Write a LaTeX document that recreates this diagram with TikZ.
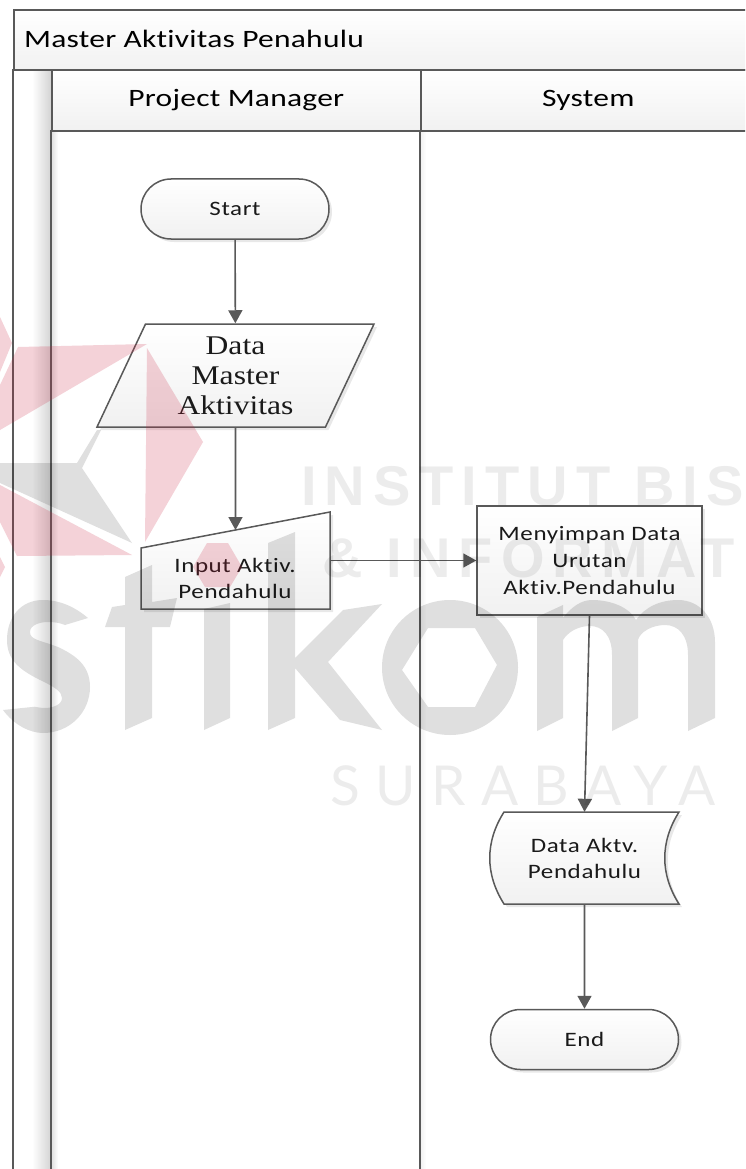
\documentclass[tikz,border=0pt]{standalone}
\usepackage{fontspec}
\setmainfont{Carlito}
\newfontfamily\labelfont[FakeStretch=1.22,LetterSpace=3,Ligatures=NoCommon]{Carlito}
\newfontfamily\headfont[FakeStretch=1.26,LetterSpace=1,Ligatures=NoCommon]{Carlito}
\newfontfamily\dataserif[FakeStretch=1.17]{Liberation Serif}
\newfontfamily\markbold[LetterSpace=14.6]{Liberation Sans Bold}
\newfontfamily\marklight[LetterSpace=28]{Lato}
\usetikzlibrary{arrows.meta,calc,shapes.geometric,shapes.misc,shadows}
\definecolor{edge}{HTML}{595959}
\definecolor{fillend}{HTML}{F1F1F1}
\definecolor{ink}{HTML}{1A1A1A}
\definecolor{stikomrose}{HTML}{C81E3C}
\tikzset{
    softshadow/.style={drop shadow={shadow xshift=3pt, shadow yshift=-3pt,
                       fill=black, opacity=0.09}},
    body/.style={draw=edge, line width=1.5pt, top color=white,
                 bottom color=fillend, softshadow},
    caption/.style={font=\labelfont\fontsize{20.5}{26}\selectfont, text=ink,
                    align=center, inner sep=0pt},
    terminal/.style={body, rounded rectangle, caption, minimum width=188pt,
                     minimum height=60pt},
    process/.style={body, rectangle, caption, minimum width=225pt,
                    minimum height=109pt,
                    font=\labelfont\fontsize{20.5}{27}\selectfont},
    dataio/.style={body, trapezium, trapezium left angle=58.1,
                   trapezium right angle=121.9, trapezium stretches body,
                   minimum width=277pt, minimum height=103pt, inner sep=0pt,
                   align=center, text=ink,
                   font=\dataserif\fontsize{27}{30}\selectfont},
    freetext/.style={caption, minimum width=#1},
    flow/.style={-{Triangle[length=13pt,width=14pt]}, draw=edge,
                 line width=1.6pt},
    band/.style={draw=edge, line width=1.6pt, anchor=north west, top color=white,
                 bottom color=fillend, inner sep=0pt},
    laneline/.style={draw=edge, line width=1.8pt},
    stikomred/.style={fill=stikomrose, fill opacity=0.2, draw=none},
    stikomgrey/.style={fill=black, fill opacity=0.125, draw=none, even odd rule},
    faintword/.style={anchor=base west, inner sep=0pt, text=black, text opacity=0.075},
}

\begin{document}
\begin{tikzpicture}[x=1pt,y=-1pt]

    \useasboundingbox (0,0) rectangle (745,1169);
    \clip (0,0) rectangle (745,1169);
    \fill[white] (0,0) rectangle (745,1169);

    \shade[left color=white, right color=black!17] (32,69) rectangle (51,1175);
    \shade[left color=black!13, right color=white] (51,130) rectangle (58,1175);
    \shade[left color=black!6, right color=white] (420,130) rectangle (426,1175);

    \node[band, minimum width=740pt, minimum height=60pt] (titleband) at (13,9) {};
    \node[anchor=west, inner sep=0pt, text=black,
          font=\headfont\fontsize{25}{30}\selectfont] (title) at (24,39) {Master Aktivitas Penahulu};
    \node[band, minimum width=369pt, minimum height=61pt,
          font=\headfont\fontsize{25}{30}\selectfont, text=black] (managerhead) at (51,69) {Project Manager};
    \node[band, minimum width=335pt, minimum height=61pt,
          font=\headfont\fontsize{25}{30}\selectfont, text=black] (systemhead) at (420,69) {System};
    \coordinate (outertop) at (13,69);
    \coordinate (outerbottom) at (13,1175);
    \coordinate (lanetop) at (51,130);
    \coordinate (lanebottom) at (51,1175);
    \coordinate (dividertop) at (420,130);
    \coordinate (dividerbottom) at (420,1175);
    \draw[laneline] (outertop) -- (outerbottom);
    \draw[laneline] (lanetop) -- (lanebottom);
    \draw[laneline] (dividertop) -- (dividerbottom);

    \node[terminal] (start) at (235,209) {Start};
    \node[dataio] (masterdata) at (235.5,375.5) {Data\\Master\\Aktivitas};

    \path[body] (141,548) -- (330,512) -- (330,609) -- (141,609) -- cycle;
    \node[freetext=189pt, minimum height=97pt] (manualinput) at (235.5,560.5) {};
    \node[caption] (manualtext) at (235,578) {Input Aktiv.\\Pendahulu};
    \coordinate (inputtop) at (235.5,530);

    \node[process] (savedata) at (589.5,560.5) {Menyimpan Data\\Urutan\\Aktiv.Pendahulu};

    \path[body] (504,812) -- (679,812) .. controls (660,842) and (660,874) .. (679,904)
        -- (504,904) .. controls (485,874) and (485,842) .. (504,812) -- cycle;
    \node[caption, minimum width=189pt, minimum height=92pt] (aktvdata) at (584.5,858) {Data Aktv.\\Pendahulu};

    \node[terminal] (finish) at (584.5,1039.5) {End};

    \draw[flow] (start) -- (masterdata);
    \draw[flow] (masterdata) -- (inputtop);
    \draw[flow] (manualinput) -- (savedata);
    \draw[flow] (savedata.south) -- (aktvdata.north);
    \draw[flow] (aktvdata) -- (finish);

    \path[stikomred] (0,317) -- (12,343) -- (0,372) -- cycle;
    \path[stikomred] (18,347) -- (147,344) -- (0,430) -- (0,385) -- cycle;
    \path[stikomred] (147,348) -- (203,442) -- (145,542) -- cycle;
    \path[stikomred] (0,485) -- (132,555) -- (17,556) -- (0,522) -- cycle;
    \path[stikomred] (0,557) -- (5,567) -- (0,577) -- cycle;
    \path[stikomred] (207,543) -- (228,543) -- (242,567) -- (230,587) -- (205,587) -- (193,567) -- cycle;

    \path[stikomgrey] (0,463) -- (77,463) -- (97,430) -- (101,430) -- (82,468) -- (132,543) -- (0,483) -- cycle;
    \path[stikomgrey] (88,618) .. controls (75,607) and (60,600) .. (43,600)
        .. controls (20,600) and (7,618) .. (7,640)
        .. controls (7,660) and (20,670) .. (40,680)
        .. controls (55,687) and (62,692) .. (62,698)
        .. controls (62,705) and (52,708) .. (45,708)
        .. controls (38,708) and (35,706) .. (32,707)
        -- (3,710) .. controls (14,725) and (30,733) .. (43,733)
        .. controls (70,733) and (90,712) .. (90,687)
        .. controls (90,665) and (75,655) .. (58,647)
        .. controls (40,640) and (30,640) .. (30,632)
        .. controls (30,625) and (40,622) .. (48,622)
        .. controls (55,622) and (60,623) .. (65,625) -- cycle;
    \path[stikomgrey] (125,730) -- (152,718) -- (152,627) -- (170,627) -- (177,598) -- (152,602)
        -- (152,565) -- (125,577) -- (125,605) -- (112,607) -- (105,627) -- (125,627) -- cycle;
    \path[stikomgrey] (204,730) -- (230,718) -- (230,603) -- (204,609) -- cycle;
    \path[stikomgrey] (268,730) -- (295,718) -- (295,668) -- (340,720) -- (382,730) -- (328,662)
        -- (382,604) -- (343,610) -- (295,658) -- (295,532) -- (268,543) -- cycle;
    \path[stikomgrey] (450,667.5) ellipse [x radius=68, y radius=67.5]
        (428,628) -- (475,628) -- (497,665) -- (475,707) -- (428,707) -- (402,670) -- cycle;
    \path[stikomgrey] (537,731) -- (537,617) -- (563,605) -- (563,618)
        .. controls (572,606) and (582,600) .. (592,600)
        .. controls (612,600) and (630,608) .. (636,620)
        .. controls (645,607) and (660,600) .. (678,600)
        .. controls (700,600) and (715,618) .. (715,642)
        -- (715,718) -- (688,731) -- (688,655)
        .. controls (688,635) and (678,625) .. (665,625)
        .. controls (652,625) and (640,632) .. (638,640)
        -- (638,718) -- (612,731) -- (612,655)
        .. controls (612,635) and (602,626) .. (590,626)
        .. controls (578,626) and (568,632) .. (563,640)
        -- (563,718) -- cycle;

    \node[faintword, font=\markbold\fontsize{56}{60}\selectfont] (markone) at (301,505) {INSTITUT BIS};
    \node[faintword, font=\markbold\fontsize{56}{60}\selectfont] (marktwo) at (322,577) {\& INFORMAT};
    \node[faintword, font=\marklight\fontsize{55}{60}\selectfont] (markthree) at (330,805) {SURABAYA};

\end{tikzpicture}
\end{document}
